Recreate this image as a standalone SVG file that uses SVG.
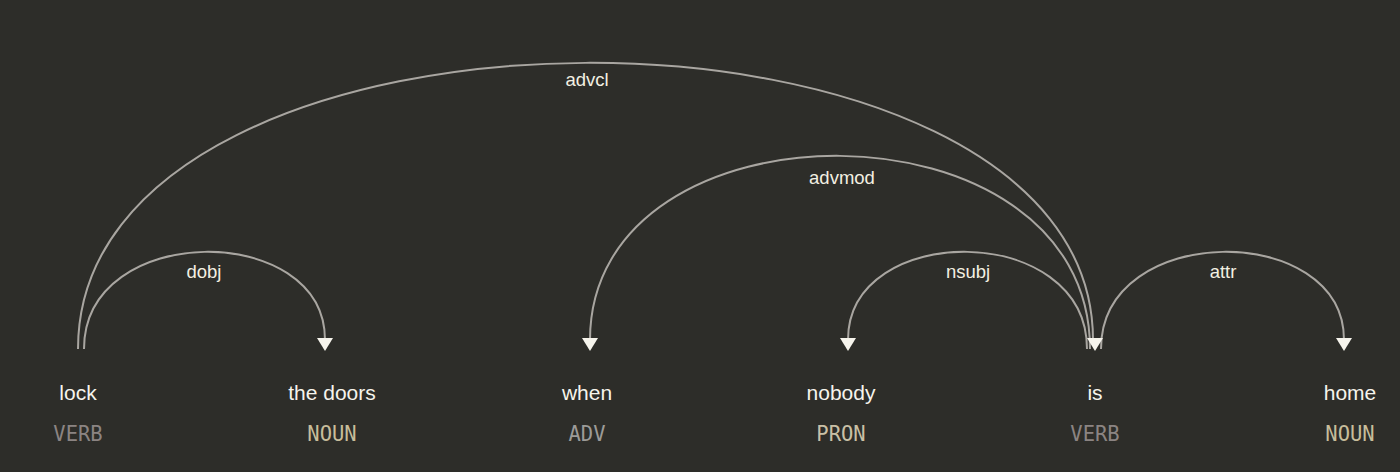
<svg xmlns="http://www.w3.org/2000/svg" width="1400" height="472" viewBox="0 0 1400 472">
<style>
.arc{fill:none;stroke:#a9a6a1;stroke-width:2}
.head{fill:#f6f4ec}
.lbl{font-family:"Liberation Sans",Arial,sans-serif;font-size:18.5px;fill:#f3f0e2;text-anchor:middle}
.word{font-family:"Liberation Sans",Arial,sans-serif;font-size:21px;fill:#f6f4ec;text-anchor:middle}
.tag{font-family:"DejaVu Sans Mono","Liberation Mono",monospace;font-size:20.5px;text-anchor:middle}
</style>
<rect width="1400" height="472" fill="#2d2d29"/>
<g id="connectors">
  <path class="arc" d="M78,349 C78,-31 1093,-31 1093,340"/>
  <path class="arc" d="M1090,349 C1090,93 590,93 590,340"/>
  <path class="arc" d="M84,349 C84,221 325,221 325,340"/>
  <path class="arc" d="M1087,349 C1087,221 848,221 848,340"/>
  <path class="arc" d="M1101,349 C1101,221 1344,221 1344,340"/>
  <polygon class="head" points="317,338 333,338 325,351"/>
  <polygon class="head" points="582,338 598,338 590,351"/>
  <polygon class="head" points="840,338 856,338 848,351"/>
  <polygon class="head" points="1087,338 1103,338 1095,351"/>
  <polygon class="head" points="1336,338 1352,338 1344,351"/>
  <text class="lbl" x="587" y="86">advcl</text>
  <text class="lbl" x="842" y="184">advmod</text>
  <text class="lbl" x="204" y="278">dobj</text>
  <text class="lbl" x="968" y="278">nsubj</text>
  <text class="lbl" x="1223" y="278">attr</text>
</g>
<g id="n-lock"><text class="word" x="78" y="400">lock</text><text class="tag" x="78" y="441" fill="#8b8482">VERB</text></g>
<g id="n-doors"><text class="word" x="332" y="400">the doors</text><text class="tag" x="332" y="441" fill="#c7bd9b">NOUN</text></g>
<g id="n-when"><text class="word" x="587" y="400">when</text><text class="tag" x="587" y="441" fill="#9c9b98">ADV</text></g>
<g id="n-nobody"><text class="word" x="841" y="400">nobody</text><text class="tag" x="841" y="441" fill="#c9c0a6">PRON</text></g>
<g id="n-is"><text class="word" x="1095" y="400">is</text><text class="tag" x="1095" y="441" fill="#8b8482">VERB</text></g>
<g id="n-home"><text class="word" x="1350" y="400">home</text><text class="tag" x="1350" y="441" fill="#c7bd9b">NOUN</text></g>
</svg>
